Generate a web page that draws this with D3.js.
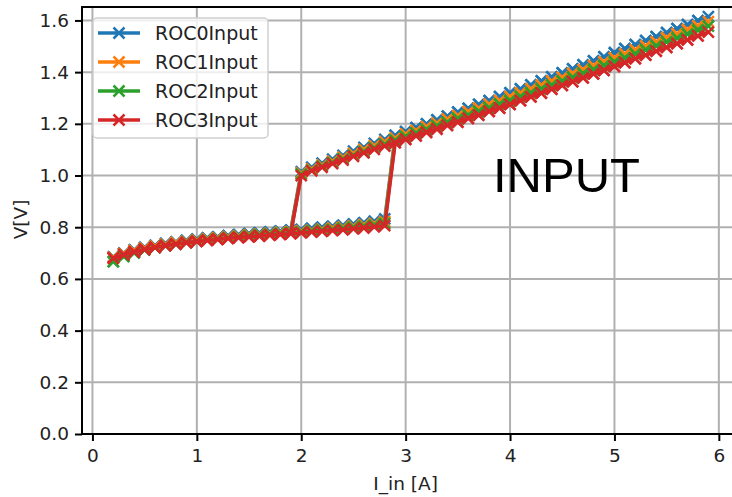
<!DOCTYPE html>
<html lang="en">
<head>
    <meta charset="UTF-8">
    <title>ROC Input</title>
    <script src="https://d3js.org/d3.v7.min.js"></script>
    <style>
        body { margin: 0; background: #fff; }
        text { font-family: "DejaVu Sans", sans-serif; }
    </style>
</head>
<body>
    <div id="chart"></div>
    <script>
        // current sweep points
        var lowI = [0.2,0.3,0.4,0.5,0.6,0.7,0.8,0.9,1.0,1.1,1.2,1.3,1.4,1.5,1.6,1.7,1.8,1.9,2.0,2.1,2.2,2.3,2.4,2.5,2.6,2.7,2.8];
        var highI = [2.0,2.1,2.2,2.3,2.4,2.5,2.6,2.7,2.8,2.9,3.0,3.1,3.2,3.3,3.4,3.5,3.6,3.7,3.8,3.9,
                     4.0,4.1,4.2,4.3,4.4,4.5,4.6,4.7,4.8,4.9,5.0,5.1,5.2,5.3,5.4,5.5,5.6,5.7,5.8,5.9];

        var names = ["ROC0Input", "ROC1Input", "ROC2Input", "ROC3Input"];
        var colors = ["#1f77b4", "#ff7f0e", "#2ca02c", "#d62728"];

        // low branch voltages (one list per ROC)
        var lowV = [
            [0.685,0.700,0.712,0.722,0.730,0.737,0.743,0.749,0.754,0.759,0.763,0.767,0.771,0.775,0.778,0.782,0.785,0.789,0.792,0.796,0.800,0.804,0.808,0.813,0.818,0.824,0.832],
            [0.683,0.698,0.709,0.719,0.727,0.734,0.740,0.745,0.750,0.755,0.759,0.763,0.766,0.770,0.773,0.776,0.780,0.783,0.786,0.789,0.793,0.797,0.801,0.805,0.810,0.815,0.822],
            [0.667,0.687,0.701,0.712,0.721,0.729,0.735,0.741,0.746,0.751,0.755,0.759,0.763,0.766,0.770,0.773,0.776,0.779,0.782,0.786,0.789,0.792,0.796,0.800,0.804,0.809,0.815],
            [0.680,0.694,0.705,0.714,0.722,0.729,0.735,0.740,0.745,0.749,0.753,0.757,0.760,0.763,0.766,0.769,0.772,0.775,0.778,0.781,0.784,0.787,0.790,0.794,0.797,0.801,0.806]
        ];
        // high branch voltages
        var highV = [
            [1.015,1.032,1.048,1.063,1.078,1.094,1.109,1.124,1.140,1.155,1.170,1.185,1.200,1.215,1.230,1.245,1.260,1.275,1.290,1.305,
             1.320,1.335,1.351,1.366,1.382,1.397,1.413,1.428,1.444,1.459,1.475,1.491,1.506,1.522,1.537,1.553,1.568,1.584,1.599,1.615],
            [1.010,1.026,1.041,1.056,1.071,1.086,1.101,1.116,1.131,1.145,1.160,1.174,1.189,1.203,1.218,1.232,1.247,1.261,1.276,1.290,
             1.305,1.320,1.335,1.350,1.365,1.380,1.395,1.410,1.425,1.440,1.455,1.471,1.486,1.502,1.517,1.533,1.548,1.564,1.579,1.595],
            [1.005,1.021,1.036,1.050,1.064,1.078,1.092,1.107,1.121,1.136,1.150,1.164,1.178,1.192,1.206,1.220,1.234,1.248,1.262,1.276,
             1.290,1.305,1.320,1.335,1.350,1.365,1.380,1.395,1.410,1.425,1.440,1.455,1.471,1.486,1.502,1.517,1.532,1.547,1.563,1.578],
            [1.000,1.018,1.032,1.046,1.060,1.074,1.088,1.101,1.114,1.127,1.140,1.153,1.167,1.180,1.194,1.207,1.221,1.234,1.248,1.261,
             1.275,1.290,1.304,1.319,1.334,1.349,1.363,1.378,1.393,1.407,1.422,1.437,1.452,1.466,1.481,1.496,1.510,1.525,1.540,1.555]
        ];

        var xTicks = [0, 1, 2, 3, 4, 5, 6];
        var yTicks = [0, 0.2, 0.4, 0.6, 0.8, 1.0, 1.2, 1.4, 1.6];

        var width = 732, height = 497;
        var plotLeft = 82, plotTop = 7, plotBottom = 434;

        var x = d3.scaleLinear().domain([-0.1, 6.2]).range([plotLeft, plotLeft + 6.3 * 104.4]);
        var y = d3.scaleLinear().domain([0, 1.652]).range([plotBottom, plotTop]);
        var plotRight = x.range()[1];

        var svg = d3.select("#chart").append("svg")
            .attr("width", width)
            .attr("height", height);

        svg.append("defs").append("clipPath").attr("id", "clip")
            .append("rect")
            .attr("x", plotLeft).attr("y", plotTop)
            .attr("width", plotRight - plotLeft).attr("height", plotBottom - plotTop);

        // grid
        var grid = svg.append("g");
        grid.selectAll(".gx").data(xTicks).enter().append("line")
            .attr("x1", function(d) { return x(d); }).attr("x2", function(d) { return x(d); })
            .attr("y1", plotTop).attr("y2", plotBottom)
            .attr("stroke", "#b0b0b0").attr("stroke-width", 2);
        grid.selectAll(".gy").data(yTicks).enter().append("line")
            .attr("x1", plotLeft).attr("x2", plotRight)
            .attr("y1", function(d) { return y(d); }).attr("y2", function(d) { return y(d); })
            .attr("stroke", "#b0b0b0").attr("stroke-width", 2);

        // build each sweep: up along low branch, jump, up along high branch, then back down
        function sweep(k) {
            var pts = [];
            var lastLow = lowI[lowI.length - 1];
            lowI.forEach(function(c, i) { pts.push([c, lowV[k][i]]); });
            highI.forEach(function(c, i) { if (c > lastLow + 1e-9) pts.push([c, highV[k][i]]); });
            for (var i = highI.length - 2; i >= 0; i--) pts.push([highI[i], highV[k][i]]);
            for (var j = lowI.length - 1; j >= 0; j--) {
                if (lowI[j] < highI[0] - 1e-9) pts.push([lowI[j], lowV[k][j]]);
            }
            return pts;
        }

        var line = d3.line()
            .x(function(d) { return x(d[0]); })
            .y(function(d) { return y(d[1]); });

        var plot = svg.append("g").attr("clip-path", "url(#clip)");
        var ms = 5.5;

        names.forEach(function(name, k) {
            var pts = sweep(k);
            var g = plot.append("g");
            g.append("path")
                .datum(pts)
                .attr("d", line)
                .attr("fill", "none")
                .attr("stroke", colors[k])
                .attr("stroke-width", 3.5)
                .attr("stroke-linejoin", "round");
            g.selectAll("path.m").data(pts).enter().append("path")
                .attr("class", "m")
                .attr("d", function(d) {
                    var px = x(d[0]), py = y(d[1]);
                    return "M" + (px - ms) + "," + (py - ms) + "L" + (px + ms) + "," + (py + ms) +
                           "M" + (px - ms) + "," + (py + ms) + "L" + (px + ms) + "," + (py - ms);
                })
                .attr("stroke", colors[k])
                .attr("stroke-width", 2.5);
        });

        // axes
        var xAxis = svg.append("g")
            .attr("transform", "translate(0," + plotBottom + ")")
            .call(d3.axisBottom(x).tickValues(xTicks).tickFormat(d3.format("d")).tickSize(7).tickPadding(8));
        var yAxis = svg.append("g")
            .attr("transform", "translate(" + plotLeft + ",0)")
            .call(d3.axisLeft(y).tickValues(yTicks).tickFormat(d3.format(".1f")).tickSize(7).tickPadding(6));

        [xAxis, yAxis].forEach(function(a) {
            a.select(".domain").remove();
            a.selectAll("line").attr("stroke", "#000").attr("stroke-width", 2);
            a.selectAll("text").attr("font-size", 18.5).attr("fill", "#222")
                .style("font-family", "DejaVu Sans");
        });

        // spines
        svg.append("rect")
            .attr("x", plotLeft).attr("y", plotTop)
            .attr("width", plotRight - plotLeft).attr("height", plotBottom - plotTop)
            .attr("fill", "none").attr("stroke", "#000").attr("stroke-width", 2);

        // labels
        svg.append("text")
            .attr("x", x(3)).attr("y", 490)
            .attr("text-anchor", "middle")
            .attr("font-size", 18.5).attr("fill", "#222")
            .text("I_in [A]");
        svg.append("text")
            .attr("transform", "translate(27," + y(0.83) + ") rotate(-90)")
            .attr("text-anchor", "middle")
            .attr("font-size", 18.5).attr("fill", "#222")
            .text("V[V]");

        svg.append("text")
            .attr("x", 493).attr("y", 192)
            .attr("font-size", 49)
            .style("font-family", "Liberation Sans, Arial, sans-serif")
            .attr("fill", "#000")
            .text("INPUT");

        // legend
        var lg = svg.append("g");
        lg.append("rect")
            .attr("x", 93).attr("y", 18).attr("width", 175).attr("height", 120).attr("rx", 4)
            .attr("fill", "#fff").attr("fill-opacity", 0.8)
            .attr("stroke", "#d0d0d0").attr("stroke-width", 1.5);
        names.forEach(function(name, k) {
            var ly = 33 + k * 29;
            lg.append("line")
                .attr("x1", 98).attr("x2", 140).attr("y1", ly).attr("y2", ly)
                .attr("stroke", colors[k]).attr("stroke-width", 3.5);
            lg.append("path")
                .attr("d", "M" + (119 - ms) + "," + (ly - ms) + "L" + (119 + ms) + "," + (ly + ms) +
                           "M" + (119 - ms) + "," + (ly + ms) + "L" + (119 + ms) + "," + (ly - ms))
                .attr("stroke", colors[k]).attr("stroke-width", 2.5);
            lg.append("text")
                .attr("x", 155).attr("y", ly + 7)
                .attr("font-size", 19).attr("fill", "#222")
                .text(name);
        });
    </script>
</body>
</html>
